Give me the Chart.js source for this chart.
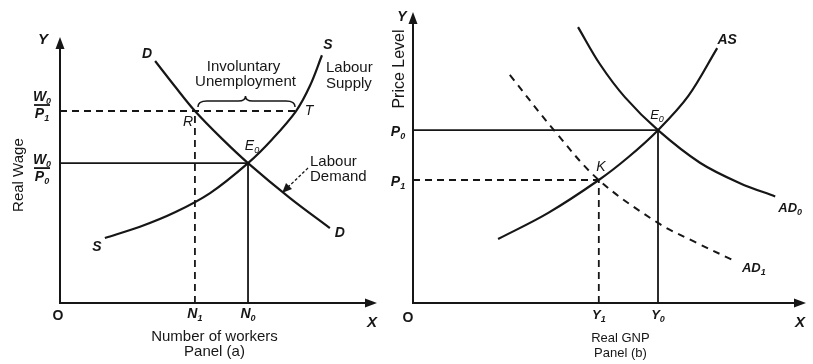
<!DOCTYPE html>
<html>
<head>
<meta charset="utf-8">
<script src="https://cdn.jsdelivr.net/npm/chart.js@4.4.1/dist/chart.umd.min.js"></script>
<style>
  body { margin: 0; background: #fff; }
  #wrap { position: relative; width: 813px; height: 364px; overflow: hidden; background: #fff; }
  canvas { position: absolute; top: 0; }
  #panelA { left: 0; }
  #panelB { left: 383px; }
</style>
</head>
<body>
<div id="wrap">
  <canvas id="panelA" width="406" height="364"></canvas>
  <canvas id="panelB" width="430" height="364"></canvas>
</div>
<script>
// Panel (a): labour market (workers vs real wage)
const demandN = [3.01, 3.64, 4.27, 5.13, 5.95, 7.28, 8.54];
const demandW = [9.20, 8.23, 7.30, 6.24, 5.32, 3.99, 2.85];
const supplyN = [1.42, 2.53, 3.64, 4.75, 5.95, 6.71, 7.47, 7.91, 8.29];
const supplyW = [2.47, 2.90, 3.45, 4.18, 5.32, 6.22, 7.30, 8.26, 9.42];
const nTicks = [4.27, 5.95];      // N1, N0
const wTicks = [7.30, 5.32];      // W0/P1, W0/P0
const tPointN = 7.47;             // T on labour supply

// Panel (b): real GNP vs price level
const asY = [2.17, 3.44, 4.74, 5.49, 6.25, 7.02, 7.76];
const asP = [2.22, 3.12, 4.27, 5.06, 6.00, 7.18, 8.85];
const ad0Y = [4.21, 4.77, 5.41, 6.25, 7.32, 8.34, 9.24];
const ad0P = [9.58, 8.29, 7.14, 6.00, 4.87, 4.16, 3.70];
const ad1Y = [2.47, 3.62, 4.74, 6.25, 7.19, 8.16];
const ad1P = [7.92, 5.96, 4.27, 2.78, 2.12, 1.49];
const yTicks = [4.74, 6.25];      // Y1, Y0
const pTicks = [4.27, 6.00];      // P1, P0

const INK = '#161616';
const FONT = '"Liberation Sans", Arial, sans-serif';

const pts = (xs, ys) => xs.map((x, i) => ({ x: x, y: ys[i] }));

function line(data, dash, width, tension) {
  return {
    data: data,
    showLine: true,
    borderColor: INK,
    borderWidth: width || 2,
    borderDash: dash || [],
    pointRadius: 0,
    tension: tension || 0,
    clip: false
  };
}

function txt(ctx, s, x, y, font, align) {
  ctx.font = font;
  ctx.textAlign = align || 'center';
  ctx.textBaseline = 'middle';
  ctx.fillText(s, x, y);
}

// letter with subscript, centred on x
function sub(ctx, main, s, x, y, size, style) {
  const f1 = style + ' ' + size + 'px ' + FONT;
  const f2 = style + ' ' + Math.round(size * 0.66) + 'px ' + FONT;
  ctx.font = f1;
  const w1 = ctx.measureText(main).width;
  ctx.font = f2;
  const w2 = ctx.measureText(s).width;
  const left = x - (w1 + w2) / 2;
  ctx.textAlign = 'left';
  ctx.textBaseline = 'middle';
  ctx.font = f1;
  ctx.fillText(main, left, y);
  ctx.font = f2;
  ctx.fillText(s, left + w1, y + size * 0.32);
}

function frac(ctx, top, ts, bot, bs, x, yBar) {
  sub(ctx, top, ts, x, yBar - 8, 14, 'italic bold');
  sub(ctx, bot, bs, x, yBar + 9, 14, 'italic bold');
  ctx.lineWidth = 1.8;
  ctx.beginPath();
  ctx.moveTo(x - 8, yBar);
  ctx.lineTo(x + 8, yBar);
  ctx.stroke();
}

function rotated(ctx, s, x, y, font) {
  ctx.save();
  ctx.translate(x, y);
  ctx.rotate(-Math.PI / 2);
  txt(ctx, s, 0, 0, font);
  ctx.restore();
}

// axes with arrow heads, drawn from the scales
const axesPlugin = {
  id: 'axes',
  afterDatasetsDraw(chart) {
    const { ctx, scales: { x, y } } = chart;
    const x0 = x.getPixelForValue(0), y0 = y.getPixelForValue(0);
    const xEnd = x.getPixelForValue(x.max), yTop = y.getPixelForValue(y.max);
    ctx.save();
    ctx.strokeStyle = INK;
    ctx.fillStyle = INK;
    ctx.lineWidth = 2;
    ctx.beginPath();
    ctx.moveTo(x0, yTop + 6);
    ctx.lineTo(x0, y0);
    ctx.lineTo(xEnd - 6, y0);
    ctx.stroke();
    ctx.beginPath();
    ctx.moveTo(x0, yTop - 3);
    ctx.lineTo(x0 - 4.5, yTop + 9);
    ctx.lineTo(x0 + 4.5, yTop + 9);
    ctx.closePath();
    ctx.fill();
    ctx.beginPath();
    ctx.moveTo(xEnd + 1, y0);
    ctx.lineTo(xEnd - 11, y0 - 4.5);
    ctx.lineTo(xEnd - 11, y0 + 4.5);
    ctx.closePath();
    ctx.fill();
    ctx.restore();
  }
};

const labelsA = {
  id: 'labelsA',
  afterDraw(chart) {
    const { ctx, scales: { x, y } } = chart;
    const X = v => x.getPixelForValue(v), Y = v => y.getPixelForValue(v);
    const x0 = X(0), y0 = Y(0), xEnd = X(x.max), yTop = Y(y.max);
    ctx.save();
    ctx.fillStyle = INK;
    ctx.strokeStyle = INK;
    const it = 'italic bold 14px ' + FONT;
    txt(ctx, 'Y', x0 - 17, yTop, 'italic bold 15px ' + FONT);
    txt(ctx, 'O', x0 - 2, y0 + 13, 'bold 14px ' + FONT);
    txt(ctx, 'X', xEnd - 4, y0 + 20, 'italic bold 15px ' + FONT);
    sub(ctx, 'N', '1', X(nTicks[0]), y0 + 11, 14, 'italic bold');
    sub(ctx, 'N', '0', X(nTicks[1]), y0 + 11, 14, 'italic bold');
    const dl = demandN.length - 1, sl = supplyN.length - 1;
    txt(ctx, 'D', X(demandN[0]) - 8, Y(demandW[0]) - 7, it);
    txt(ctx, 'D', X(demandN[dl]) + 10, Y(demandW[dl]) + 5, it);
    txt(ctx, 'S', X(supplyN[sl]) + 6, Y(supplyW[sl]) - 10, it);
    txt(ctx, 'S', X(supplyN[0]) - 8, Y(supplyW[0]) + 9, it);
    txt(ctx, 'R', X(nTicks[0]) - 7, Y(wTicks[0]) + 11, 'italic 14px ' + FONT);
    txt(ctx, 'T', X(tPointN) + 13, Y(wTicks[0]), 'italic 14px ' + FONT);
    sub(ctx, 'E', '0', X(nTicks[1]) + 4, Y(wTicks[1]) - 17, 14, 'italic');
    frac(ctx, 'W', '0', 'P', '1', x0 - 18, Y(wTicks[0]) - 6);
    frac(ctx, 'W', '0', 'P', '0', x0 - 18, Y(wTicks[1]) + 5);
    rotated(ctx, 'Real Wage', 19, Y(wTicks[1]) + 12, '15px ' + FONT);

    const xr = X(nTicks[0]), xt = X(tPointN), yl = Y(wTicks[0]);
    const xm = (xr + xt) / 2;
    txt(ctx, 'Involuntary', xm - 2, yl - 44, '15px ' + FONT);
    txt(ctx, 'Unemployment', xm, yl - 29, '15px ' + FONT);
    // brace
    const x1 = xr + 3, x2 = xt - 1, yb = yl - 4, yt = yl - 10, yp = yl - 15;
    ctx.lineWidth = 1.5;
    ctx.beginPath();
    ctx.moveTo(x1, yb);
    ctx.quadraticCurveTo(x1, yt, x1 + 9, yt);
    ctx.lineTo(xm - 7, yt);
    ctx.quadraticCurveTo(xm, yt, xm, yp);
    ctx.quadraticCurveTo(xm, yt, xm + 7, yt);
    ctx.lineTo(x2 - 9, yt);
    ctx.quadraticCurveTo(x2, yt, x2, yb);
    ctx.stroke();

    txt(ctx, 'Labour', X(supplyN[sl]) + 4, yl - 43, '15px ' + FONT, 'left');
    txt(ctx, 'Supply', X(supplyN[sl]) + 4, yl - 27, '15px ' + FONT, 'left');
    const yE = Y(wTicks[1]);
    txt(ctx, 'Labour', X(nTicks[1]) + 62, yE - 1, '15px ' + FONT, 'left');
    txt(ctx, 'Demand', X(nTicks[1]) + 62, yE + 14, '15px ' + FONT, 'left');
    // pointer to labour demand
    const ax = X(nTicks[1]) + 60, ay = yE + 5, bx = ax - 26, by = ay + 25;
    ctx.lineWidth = 1.3;
    ctx.setLineDash([3, 2]);
    ctx.beginPath();
    ctx.moveTo(ax, ay);
    ctx.lineTo(bx + 6, by - 6);
    ctx.stroke();
    ctx.setLineDash([]);
    ctx.beginPath();
    ctx.moveTo(bx, by);
    ctx.lineTo(bx + 4, by - 10);
    ctx.lineTo(bx + 10, by - 4);
    ctx.closePath();
    ctx.fill();

    txt(ctx, 'Number of workers', (X(nTicks[0]) + X(nTicks[1])) / 2 - 7, y0 + 34, '15px ' + FONT);
    txt(ctx, 'Panel (a)', (X(nTicks[0]) + X(nTicks[1])) / 2 - 7, y0 + 49, '15px ' + FONT);
    ctx.restore();
  }
};

const labelsB = {
  id: 'labelsB',
  afterDraw(chart) {
    const { ctx, scales: { x, y } } = chart;
    const X = v => x.getPixelForValue(v), Y = v => y.getPixelForValue(v);
    const x0 = X(0), y0 = Y(0), xEnd = X(x.max), yTop = Y(y.max);
    ctx.save();
    ctx.fillStyle = INK;
    ctx.strokeStyle = INK;
    txt(ctx, 'Y', x0 - 11, yTop + 2, 'italic bold 14px ' + FONT);
    rotated(ctx, 'Price Level', x0 - 13, yTop + 54, '16px ' + FONT);
    sub(ctx, 'P', '0', x0 - 15, Y(pTicks[1]) + 2, 14, 'italic bold');
    sub(ctx, 'P', '1', x0 - 15, Y(pTicks[0]) + 2, 14, 'italic bold');
    txt(ctx, 'O', x0 - 5, y0 + 15, 'bold 14px ' + FONT);
    txt(ctx, 'X', xEnd - 5, y0 + 20, 'italic bold 15px ' + FONT);
    sub(ctx, 'Y', '1', X(yTicks[0]), y0 + 12, 13, 'italic bold');
    sub(ctx, 'Y', '0', X(yTicks[1]), y0 + 12, 13, 'italic bold');
    const cx = (X(yTicks[0]) + X(yTicks[1])) / 2 - 8;
    txt(ctx, 'Real GNP', cx, y0 + 35, '13px ' + FONT);
    txt(ctx, 'Panel (b)', cx, y0 + 50, '13px ' + FONT);
    const al = asY.length - 1, d0 = ad0Y.length - 1, d1 = ad1Y.length - 1;
    txt(ctx, 'AS', X(asY[al]) + 10, Y(asP[al]) - 8, 'italic bold 14px ' + FONT);
    sub(ctx, 'AD', '0', X(ad0Y[d0]) + 15, Y(ad0P[d0]) + 12, 13, 'italic bold');
    sub(ctx, 'AD', '1', X(ad1Y[d1]) + 21, Y(ad1P[d1]) + 8, 13, 'italic bold');
    txt(ctx, 'K', X(yTicks[0]) + 2, Y(pTicks[0]) - 13, 'italic 14px ' + FONT);
    sub(ctx, 'E', '0', X(yTicks[1]) - 1, Y(pTicks[1]) - 15, 13, 'italic');
    ctx.restore();
  }
};

const baseOptions = (pad) => ({
  responsive: false,
  animation: false,
  devicePixelRatio: 1,
  layout: { padding: pad },
  plugins: { legend: { display: false }, tooltip: { enabled: false } },
  scales: {
    x: { type: 'linear', min: 0, max: 10, display: false },
    y: { type: 'linear', min: 0, max: 10, display: false }
  }
});

new Chart(document.getElementById('panelA').getContext('2d'), {
  type: 'scatter',
  data: {
    datasets: [
      line([{ x: 0, y: wTicks[0] }, { x: tPointN, y: wTicks[0] }], [7, 5], 1.8),
      line([{ x: nTicks[0], y: 0 }, { x: nTicks[0], y: wTicks[0] }], [7, 5], 1.8),
      line([{ x: 0, y: wTicks[1] }, { x: nTicks[1], y: wTicks[1] }], [], 1.8),
      line([{ x: nTicks[1], y: 0 }, { x: nTicks[1], y: wTicks[1] }], [], 1.8),
      line(pts(demandN, demandW), [], 2.2, 0.35),
      line(pts(supplyN, supplyW), [], 2.2, 0.35)
    ]
  },
  options: baseOptions({ left: 60, right: 30, top: 40, bottom: 61 }),
  plugins: [axesPlugin, labelsA]
});

new Chart(document.getElementById('panelB').getContext('2d'), {
  type: 'scatter',
  data: {
    datasets: [
      line([{ x: 0, y: pTicks[0] }, { x: yTicks[0], y: pTicks[0] }], [7, 5], 1.8),
      line([{ x: yTicks[0], y: 0 }, { x: yTicks[0], y: pTicks[0] }], [7, 5], 1.8),
      line([{ x: 0, y: pTicks[1] }, { x: yTicks[1], y: pTicks[1] }], [], 1.8),
      line([{ x: yTicks[1], y: 0 }, { x: yTicks[1], y: pTicks[1] }], [], 1.8),
      line(pts(asY, asP), [], 2.2, 0.35),
      line(pts(ad0Y, ad0P), [], 2.2, 0.35),
      line(pts(ad1Y, ad1P), [7, 6], 2, 0.35)
    ]
  },
  options: baseOptions({ left: 30, right: 8, top: 15, bottom: 61 }),
  plugins: [axesPlugin, labelsB]
});
</script>
</body>
</html>
